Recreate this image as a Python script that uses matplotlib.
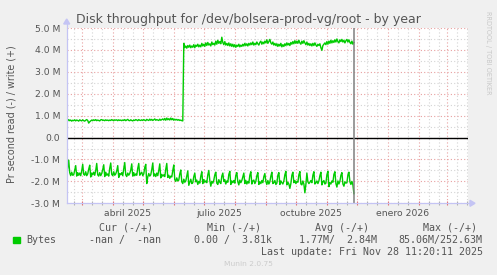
import matplotlib
matplotlib.use('Agg')
import matplotlib.pyplot as plt
import matplotlib.dates as mdates
import matplotlib.ticker as mticker
from matplotlib.lines import Line2D
from matplotlib.patches import Rectangle, Polygon
import numpy as np

# ---------------- data (MB/s, one value per day from 2025-02-14) ----------------
start_day = '2025-02-14'
last_update = '2025-11-28T11:20'

read_mb = [
    1.64, 1.38, 1.03, 1.60, 1.74, 1.58, 1.72,
    1.70, 1.48, 1.28, 1.76, 1.60, 1.72, 1.62,
    1.74, 1.52, 1.22, 1.68, 1.72, 1.56, 1.74,
    1.66, 1.44, 1.26, 1.80, 1.62, 1.70, 1.58,
    1.72, 1.50, 1.18, 1.70, 1.76, 1.60, 1.74,
    1.64, 1.46, 1.24, 1.78, 1.58, 1.72, 1.66,
    1.76, 1.40, 1.16, 1.68, 1.74, 1.56, 1.72,
    1.66, 1.52, 1.28, 1.82, 1.64, 1.70, 1.60,
    1.74, 1.42, 1.14, 1.70, 1.78, 1.62, 1.72,
    1.64, 1.48, 1.20, 1.76, 1.60, 1.74, 1.66,
    1.72, 1.40, 1.18, 1.72, 1.64, 1.58, 1.74,
    1.66, 1.36, 1.22, 2.10, 1.80, 1.64, 1.76,
    1.70, 1.46, 1.16, 1.76, 1.66, 1.78, 1.62,
    1.74, 1.50, 1.20, 1.84, 1.68, 1.76, 1.70,
    1.78, 1.44, 1.18, 1.82, 1.72, 1.86, 1.76,
    1.80, 1.50, 1.25, 1.92, 2.00, 1.84, 1.98,
    1.94, 1.66, 1.48, 2.02, 2.10, 1.90, 2.04,
    1.98, 1.74, 1.52, 2.18, 2.04, 1.90, 2.10,
    2.06, 1.78, 1.62, 2.02, 1.94, 2.14, 2.00,
    2.08, 1.76, 1.56, 2.10, 1.92, 2.04, 1.98,
    2.06, 1.70, 1.50, 1.96, 2.22, 2.00, 2.08,
    1.94, 1.70, 1.58, 2.08, 2.14, 1.92, 2.04,
    2.10, 1.76, 1.62, 2.00, 1.92, 2.12, 1.98,
    2.04, 1.68, 1.54, 2.14, 1.98, 2.06, 1.96,
    2.08, 1.72, 1.60, 2.02, 2.16, 1.94, 2.06,
    1.96, 1.78, 1.62, 2.10, 1.96, 2.12, 2.00,
    2.08, 1.72, 1.56, 2.12, 1.98, 1.94, 2.10,
    2.00, 1.74, 1.60, 2.14, 2.02, 2.10, 1.96,
    2.06, 1.78, 1.64, 2.00, 2.14, 1.96, 2.12,
    2.02, 1.76, 1.58, 2.10, 2.06, 1.96, 2.14,
    2.08, 1.72, 1.60, 2.14, 1.98, 2.06, 2.12,
    1.98, 1.70, 1.54, 2.16, 2.04, 2.12, 2.32,
    2.10, 1.72, 1.58, 2.06, 1.96, 2.10, 2.00,
    2.04, 1.70, 1.55, 2.12, 2.16, 1.98, 2.12,
    2.52, 2.14, 1.62, 2.02, 2.10, 2.04, 1.96,
    2.06, 1.72, 1.56, 2.12, 2.06, 1.98, 2.10,
    1.98, 1.74, 1.58, 2.16, 2.02, 1.96, 2.12,
    2.08, 1.70, 1.54, 2.24, 2.06, 2.12, 1.98,
    2.04, 1.68, 1.56, 2.10, 2.26, 1.98, 2.12,
    2.00, 1.72, 1.60, 2.12, 2.22, 2.02, 2.08,
    2.06, 1.70, 1.58, 2.02, 2.14, 2.00, 2.16,
    2.56,
]

write_mb = [
    0.80, 0.76, 0.82, 0.77, 0.80, 0.75, 0.79,
    0.77, 0.81, 0.76, 0.80, 0.78, 0.75, 0.81,
    0.78, 0.76, 0.81, 0.77, 0.75, 0.79, 0.82,
    0.78, 0.66, 0.72, 0.76, 0.80, 0.77, 0.81,
    0.78, 0.82, 0.77, 0.80, 0.78, 0.76, 0.81,
    0.82, 0.78, 0.80, 0.77, 0.81, 0.78, 0.80,
    0.77, 0.80, 0.78, 0.82, 0.79, 0.77, 0.81,
    0.79, 0.81, 0.77, 0.81, 0.78, 0.80, 0.77,
    0.80, 0.78, 0.82, 0.77, 0.80, 0.83, 0.78,
    0.77, 0.81, 0.78, 0.76, 0.80, 0.78, 0.82,
    0.80, 0.77, 0.82, 0.79, 0.78, 0.81, 0.78,
    0.82, 0.79, 0.77, 0.83, 0.80, 0.78, 0.84,
    0.79, 0.83, 0.78, 0.81, 0.85, 0.79, 0.82,
    0.80, 0.78, 0.84, 0.79, 0.82, 0.85, 0.80,
    0.87, 0.79, 0.89, 0.81, 0.86, 0.80, 0.89,
    0.81, 0.87, 0.79, 0.84, 0.80, 0.83, 0.79,
    0.82, 0.78, 0.80, 0.77, 0.76, 4.30, 4.10,
    4.18, 4.08, 4.20, 4.12, 4.22, 4.10, 4.18,
    4.12, 4.24, 4.10, 4.22, 4.16, 4.26, 4.14,
    4.22, 4.14, 4.30, 4.18, 4.26, 4.16, 4.32,
    4.20, 4.34, 4.22, 4.28, 4.18, 4.36, 4.24,
    4.30, 4.22, 4.40, 4.26, 4.44, 4.30, 4.38,
    4.28, 4.58, 4.34, 4.24, 4.38, 4.22, 4.30,
    4.20, 4.32, 4.18, 4.28, 4.16, 4.26, 4.14,
    4.24, 4.12, 4.22, 4.16, 4.26, 4.14, 4.22,
    4.16, 4.26, 4.18, 4.30, 4.20, 4.28, 4.18,
    4.30, 4.22, 4.32, 4.24, 4.36, 4.22, 4.30,
    4.24, 4.36, 4.28, 4.22, 4.34, 4.40, 4.26,
    4.36, 4.28, 4.40, 4.32, 4.46, 4.30, 4.38,
    4.48, 4.32, 4.26, 4.36, 4.22, 4.30, 4.20,
    4.28, 4.16, 4.26, 4.18, 4.30, 4.14, 4.24,
    4.16, 4.28, 4.20, 4.32, 4.22, 4.30, 4.20,
    4.34, 4.26, 4.38, 4.28, 4.42, 4.30, 4.40,
    4.30, 4.44, 4.32, 4.26, 4.40, 4.30, 4.42,
    4.32, 4.24, 4.36, 4.22, 4.30, 4.20, 4.28,
    4.18, 4.30, 4.20, 4.32, 4.22, 4.16, 4.26,
    4.20, 4.28, 4.10, 3.98, 4.20, 4.26, 4.32,
    4.24, 4.38, 4.26, 4.40, 4.30, 4.44, 4.32,
    4.42, 4.34, 4.46, 4.36, 4.50, 4.38, 4.32,
    4.46, 4.38, 4.48, 4.36, 4.44, 4.32, 4.42,
    4.48, 4.36, 4.46, 4.34, 4.28, 4.40, 4.26,
    4.34,
]

month_labels = ['abril 2025', 'julio 2025', 'octubre 2025', 'enero 2026']
month_label_dates = ['2025-04-16', '2025-07-16', '2025-10-16', '2026-01-16']
y_ticks = [-3, -2, -1, 0, 1, 2, 3, 4, 5]

title = 'Disk throughput for /dev/bolsera-prod-vg/root - by year'
ylabel = 'Pr second read (-) / write (+)'
legend_headers = ['Cur (-/+)', 'Min (-/+)', 'Avg (-/+)', 'Max (-/+)']
legend_series = 'Bytes'
legend_values = ['-nan /  -nan', '0.00 /  3.81k', '1.77M/  2.84M', '85.06M/252.63M']
last_update_text = 'Last update: Fri Nov 28 11:20:11 2025'

# ---------------- figure ----------------
W, H = 497, 275
fig = plt.figure(figsize=(W / 100, H / 100), dpi=100, facecolor='#F0F0F0')


def fx(px):
    return px / W


def fy(py):
    return 1 - py / H


L, R, T, B = 66.7, 468.0, 28.0, 203.3
ax = fig.add_axes([fx(L), fy(B), fx(R - L), (B - T) / H])
ax.set_facecolor('white')

GREEN = '#00CC00'
TXT = '#555555'
MGRID = '#e8a0a0'
MINGRID = '#d4d4d4'
AXISC = '#c4c4f4'

x = np.datetime64(start_day) + np.arange(len(read_mb)).astype('timedelta64[D]')
ax.plot(x, np.array(write_mb), color=GREEN, lw=1.0, zorder=3)
ax.plot(x, -np.array(read_mb), color=GREEN, lw=1.0, zorder=3)

ax.set_xlim(np.datetime64('2025-02-14'), np.datetime64('2026-03-22'))
ax.set_ylim(-3, 5)

ax.xaxis.set_major_locator(mdates.MonthLocator())
ax.xaxis.set_minor_locator(mdates.DayLocator(bymonthday=[11, 21]))
ax.xaxis.set_major_formatter(mticker.NullFormatter())
ax.set_yticks(y_ticks)
ax.yaxis.set_minor_locator(mticker.MultipleLocator(0.5))
ax.yaxis.set_major_formatter(mticker.FuncFormatter(
    lambda v, p: '0.0' if abs(v) < 1e-9 else f'{v:.1f} M'))

ax.grid(which='major', color=MGRID, lw=0.8, linestyle=(0, (1, 2)))
ax.grid(which='minor', color=MINGRID, lw=0.8, linestyle=(0, (1, 2)))
ax.set_axisbelow(True)

ax.tick_params(axis='y', which='both', length=0, pad=4.6, labelsize=6.7, labelcolor=TXT)
ax.tick_params(axis='x', which='major', direction='inout', length=3.5, color='#e07070', width=0.8)
ax.tick_params(axis='x', which='minor', direction='inout', length=3.5, color='#b0b0b0', width=0.8)
for lab in ax.get_yticklabels():
    lab.set_family('DejaVu Sans')

for s in ax.spines.values():
    s.set_visible(False)

# zero line and "now" line
ax.axhline(0, color='black', lw=1.0, zorder=4)
ax.axvline(np.datetime64(last_update), color='#808080', lw=1.1, zorder=4)

# month labels
for lab, d in zip(month_labels, month_label_dates):
    ax.text(np.datetime64(d), -10 / (B - T), lab, transform=ax.get_xaxis_transform(),
            ha='center', va='center', fontsize=6.7, color=TXT, family='DejaVu Sans')

# axes lines with arrows
fig.add_artist(Line2D([fx(L), fx(L)], [fy(B), fy(24)], color=AXISC, lw=0.9))
fig.add_artist(Line2D([fx(L), fx(470)], [fy(B), fy(B)], color=AXISC, lw=0.9))
fig.add_artist(Polygon([[fx(L - 3), fy(24)], [fx(L + 3), fy(24)], [fx(L), fy(19)]],
                       closed=True, color=AXISC, transform=fig.transFigure))
fig.add_artist(Polygon([[fx(470), fy(B - 3)], [fx(470), fy(B + 3)], [fx(475), fy(B)]],
                       closed=True, color=AXISC, transform=fig.transFigure))

# texts
fig.text(fx(248), fy(19), title, ha='center', va='center', fontsize=9, color=TXT,
         family='DejaVu Sans')
fig.text(fx(12), fy(114), ylabel, rotation=90, ha='center', va='center', fontsize=6.9,
         color=TXT, family='DejaVu Sans')
fig.text(fx(488), fy(53), 'RRDTOOL / TOBI OETIKER', rotation=270, ha='center', va='center',
         fontsize=4.7, color='#c8c8c8', family='DejaVu Sans')

MONO = dict(family='DejaVu Sans Mono', fontsize=7.2, color=TXT, va='center', ha='left')
for hdr, xp in zip(legend_headers, [98.7, 206.7, 315, 422.7]):
    fig.text(fx(xp), fy(227.7), hdr, **MONO)
fig.add_artist(Rectangle((fx(13.3), fy(243)), fx(6.7), 6.3 / H, color=GREEN,
                         transform=fig.transFigure))
fig.text(fx(26), fy(240), legend_series, **MONO)
for val, xp in zip(legend_values, [89.3, 194.3, 299.3, 398.3]):
    fig.text(fx(xp), fy(240), val, **MONO)
fig.text(fx(483.3), fy(251.7), last_update_text, **{**MONO, 'ha': 'right'})
fig.text(fx(248), fy(264), 'Munin 2.0.75', ha='center', va='center', fontsize=5.4,
         color='#cccccc', family='DejaVu Sans')

fig.savefig('out.png', dpi=100, facecolor=fig.get_facecolor())
